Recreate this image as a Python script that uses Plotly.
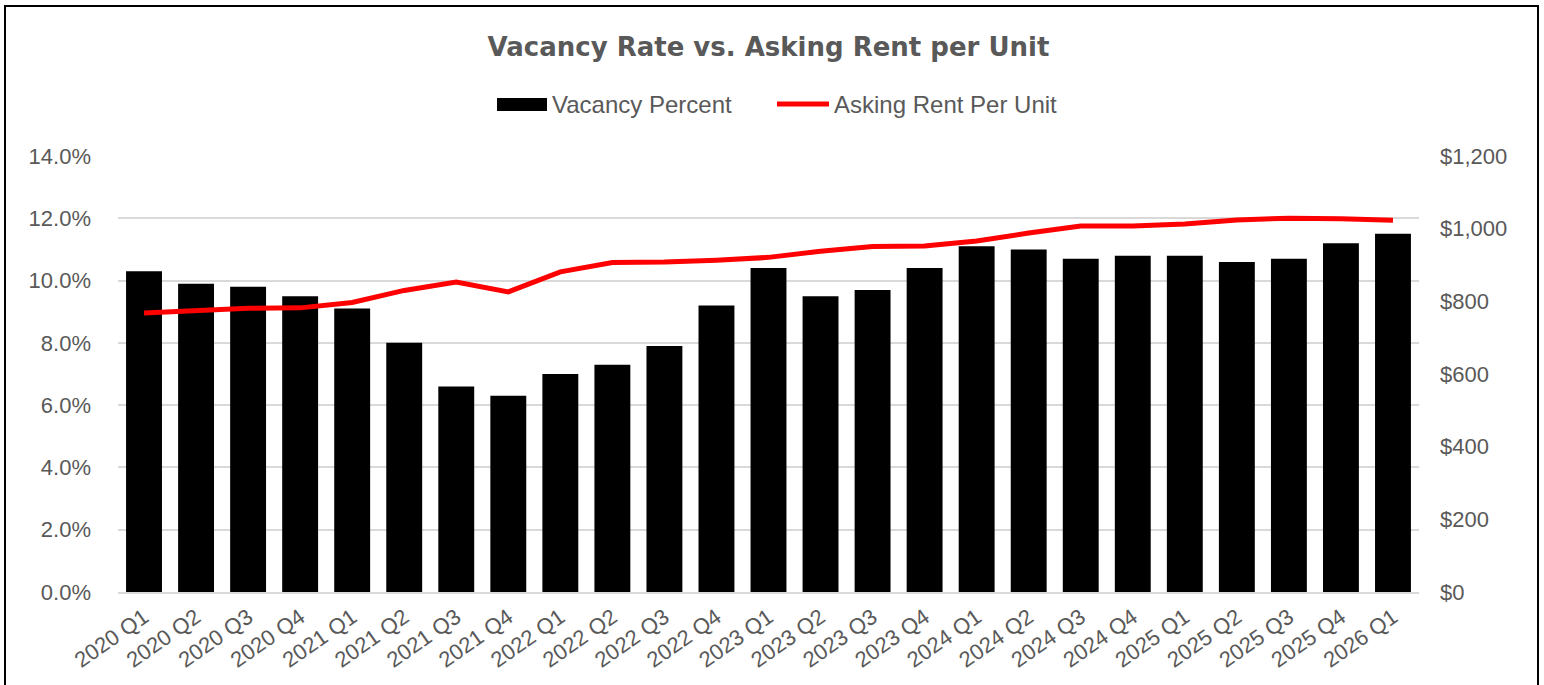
import plotly.graph_objects as go

quarters = ["2020 Q1", "2020 Q2", "2020 Q3", "2020 Q4",
            "2021 Q1", "2021 Q2", "2021 Q3", "2021 Q4",
            "2022 Q1", "2022 Q2", "2022 Q3", "2022 Q4",
            "2023 Q1", "2023 Q2", "2023 Q3", "2023 Q4",
            "2024 Q1", "2024 Q2", "2024 Q3", "2024 Q4",
            "2025 Q1", "2025 Q2", "2025 Q3", "2025 Q4",
            "2026 Q1"]
vacancy_pct = [10.3, 9.9, 9.8, 9.5,
               9.1, 8.0, 6.6, 6.3,
               7.0, 7.3, 7.9, 9.2,
               10.4, 9.5, 9.7, 10.4,
               11.1, 11.0, 10.7, 10.8,
               10.8, 10.6, 10.7, 11.2,
               11.5]
asking_rent = [768, 773, 781, 782,
               797, 830, 853, 826,
               881, 907, 908, 913,
               921, 938, 951, 952,
               966, 988, 1007, 1007,
               1013, 1024, 1029, 1027,
               1023]
left_ticks = [0, 2, 4, 6, 8, 10, 12, 14]
left_tick_labels = ["0.0%", "2.0%", "4.0%", "6.0%", "8.0%", "10.0%", "12.0%", "14.0%"]
right_ticks = [0, 200, 400, 600, 800, 1000, 1200]
right_tick_labels = ["$0", "$200", "$400", "$600", "$800", "$1,000", "$1,200"]

W, H = 1544, 685
L, R, T, B = 118, 125, 156, 93
PW, PH = W - L - R, H - T - B

def px_x(p):
    return (p - L) / PW

def px_y(p):
    return (H - B - p) / PH

FONT = "Liberation Sans, Arial, sans-serif"
GRAY = "#595959"

fig = go.Figure()
fig.add_trace(go.Bar(
    x=quarters, y=vacancy_pct, name="Vacancy Percent",
    marker=dict(color="#000000", line=dict(width=0)),
    yaxis="y", showlegend=False,
))
fig.add_trace(go.Scatter(
    x=quarters, y=asking_rent, name="Asking Rent Per Unit",
    mode="lines", line=dict(color="#ff0000", width=5),
    yaxis="y2", showlegend=False,
))

shapes = [
    # outer border
    dict(type="rect", xref="paper", yref="paper",
         x0=px_x(5), x1=px_x(1538), y0=px_y(700), y1=px_y(6),
         line=dict(color="#000000", width=2), fillcolor="rgba(0,0,0,0)", layer="above"),
    # legend symbols
    dict(type="rect", xref="paper", yref="paper",
         x0=px_x(497), x1=px_x(547), y0=px_y(111), y1=px_y(98),
         line=dict(width=0), fillcolor="#000000"),
    dict(type="line", xref="paper", yref="paper",
         x0=px_x(777), x1=px_x(829), y0=px_y(104), y1=px_y(104),
         line=dict(color="#ff0000", width=5)),
]
annotations = [
    dict(text="Vacancy Percent", xref="paper", yref="paper",
         x=px_x(550), y=px_y(104), xanchor="left", yanchor="middle",
         showarrow=False, font=dict(family=FONT, size=24, color=GRAY)),
    dict(text="Asking Rent Per Unit", xref="paper", yref="paper",
         x=px_x(832), y=px_y(104), xanchor="left", yanchor="middle",
         showarrow=False, font=dict(family=FONT, size=24, color=GRAY)),
]

fig.update_layout(
    width=W, height=H, autosize=False,
    margin=dict(l=L, r=R, t=T, b=B, pad=0),
    paper_bgcolor="#ffffff", plot_bgcolor="#ffffff",
    title=dict(text="<b>Vacancy Rate vs. Asking Rent per Unit</b>",
               x=0.5, xanchor="center", xref="paper",
               y=1 - 47 / H, yanchor="middle", yref="container",
               font=dict(family="DejaVu Sans, sans-serif", size=26, color=GRAY)),
    bargap=0.31,
    showlegend=False,
    xaxis=dict(
        type="category", range=[-0.5, len(quarters) - 0.5],
        tickangle=-35, tickfont=dict(family=FONT, size=22, color=GRAY),
        showline=True, linecolor="#d9d9d9", linewidth=1.5,
        showgrid=False, ticks="", ticklabelstandoff=2, automargin=False,
    ),
    yaxis=dict(
        range=[0, 14], tickmode="array", tickvals=left_ticks, ticktext=left_tick_labels,
        tickfont=dict(family=FONT, size=22, color=GRAY),
        showgrid=True, gridcolor="#d9d9d9", gridwidth=1.5,
        zeroline=False, showline=False, ticks="", ticklabelstandoff=26,
        automargin=False,
    ),
    yaxis2=dict(
        overlaying="y", side="right", range=[0, 1200],
        tickmode="array", tickvals=right_ticks, ticktext=right_tick_labels,
        tickfont=dict(family=FONT, size=22, color=GRAY),
        showgrid=False, zeroline=False, showline=False, ticks="",
        ticklabelstandoff=20, automargin=False,
    ),
    shapes=shapes,
    annotations=annotations,
)

fig.write_html("out.html")
